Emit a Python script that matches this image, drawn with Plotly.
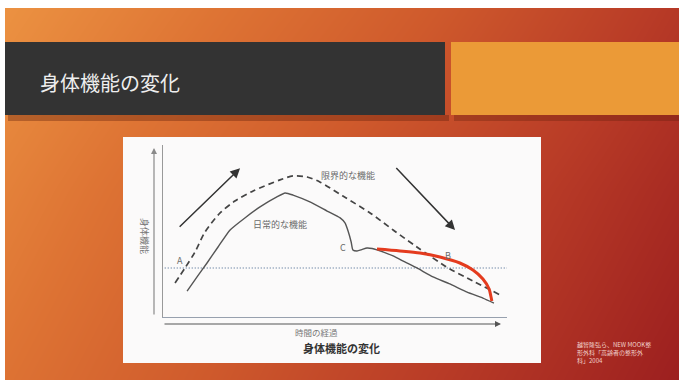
import plotly.graph_objects as go

# ---------------- data (x = time 0-100, y = function 0-100)
limit_x = [3.5, 6.4, 9.3, 12.2, 16.6, 20.9, 26.2, 34.0, 37.8, 41.9, 45.6, 52.3, 60.2, 66.9, 73.8, 83.4, 88.4, 98.0]
limit_y = [19.8, 28.5, 37.8, 49.4, 60.5, 67.4, 73.3, 79.7, 82.0, 81.4, 78.5, 70.3, 60.5, 50.6, 40.7, 27.9, 22.7, 12.8]

daily_x = [7.0, 9.9, 12.8, 16.0, 19.5, 23.8, 28.2, 33.1, 35.5, 37.8, 42.7, 47.7, 51.5, 52.9, 53.8, 54.7, 55.2,
           56.4, 57.8, 59.3, 60.8, 62.2, 66.9, 70.3, 73.8, 78.5, 83.4, 88.4, 93.0, 96.2]
daily_y = [15.1, 23.3, 31.4, 40.7, 50.6, 57.6, 64.0, 69.8, 72.1, 70.9, 66.9, 61.6, 57.6, 54.7, 50.0, 43.6, 39.0,
           38.4, 39.2, 40.1, 39.8, 39.0, 35.5, 32.0, 28.5, 23.3, 19.2, 14.5, 11.0, 8.1]

kept_x = [62.2, 68.9, 74.7, 80.5, 86.3, 90.1, 93.0, 94.8, 95.3, 95.6]
kept_y = [39.5, 38.4, 37.2, 34.9, 31.4, 27.3, 22.1, 16.3, 12.2, 9.3]

threshold_x = [0.5, 100]
threshold_y = [28.5, 28.5]

rise_arrow = [(4.4, 51.6), (22.4, 86.5)]
fall_arrow = [(67.4, 87.5), (84.9, 50.6)]

labels = [("限界的な機能", 53.8, 82.4), ("日常的な機能", 34.0, 53.9), ("A", 5.0, 33.1), ("C", 52.2, 40.5), ("B", 82.8, 35.5)]

title_text = "身体機能の変化"
caption_text = "身体機能の変化"
xlabel_text = "時間の経過"
ylabel_text = "身体機能"
source_text = "越智隆弘ら、NEW MOOK整<br>形外科「高齢者の整形外<br>科」2004"

W, H = 679, 380
JP = "Noto Sans CJK JP"

fig = go.Figure()

# ---------------- background (subplot xy in pixel coordinates)
fig.add_trace(go.Heatmap(
    x=[0, 339.5, 679], y=[0, 190, 380],
    z=[[0.0, 0.38, 0.78], [0.14, 0.55, 0.9], [0.26, 0.66, 1.0]],
    zsmooth="best", showscale=False, hoverinfo="skip",
    colorscale=[[0, "#ec9342"], [0.25, "#de7434"], [0.5, "#cf5a2c"], [0.75, "#b93c27"], [1, "#9c1f1f"]],
    xaxis="x", yaxis="y"))


def rect(x0, y0, x1, y1, color):
    fig.add_trace(go.Scatter(x=[x0, x1, x1, x0, x0], y=[y0, y0, y1, y1, y0], mode="lines",
                             fill="toself", fillcolor=color, line=dict(width=0), hoverinfo="skip",
                             showlegend=False, xaxis="x", yaxis="y"))


rect(0, 0, W, 8, "white")
rect(0, 0, 5, H, "white")
rect(8, 115, 449, 121, "rgba(90,25,10,0.35)")
rect(454, 115, W, 121, "rgba(90,25,10,0.30)")
rect(5, 42, 445, 115, "#333333")
rect(451, 42, W, 115, "#eb9a37")
rect(123, 137, 541, 363, "#fbfafa")

# ---------------- chart (subplot x2y2)
fig.add_trace(go.Scatter(x=threshold_x, y=threshold_y, mode="lines",
                         line=dict(color="#7f94b0", width=1.3, dash="1px,2px"),
                         xaxis="x2", yaxis="y2", showlegend=False, hoverinfo="skip"))
fig.add_trace(go.Scatter(x=limit_x, y=limit_y, mode="lines",
                         line=dict(color="#444444", width=1.7, dash="6px,4px", shape="spline", smoothing=0.8),
                         xaxis="x2", yaxis="y2", showlegend=False, hoverinfo="skip"))
fig.add_trace(go.Scatter(x=daily_x, y=daily_y, mode="lines",
                         line=dict(color="#555555", width=1.4, shape="spline", smoothing=0.5),
                         xaxis="x2", yaxis="y2", showlegend=False, hoverinfo="skip"))
fig.add_trace(go.Scatter(x=kept_x, y=kept_y, mode="lines",
                         line=dict(color="#e43b1e", width=3, shape="spline", smoothing=0.8),
                         xaxis="x2", yaxis="y2", showlegend=False, hoverinfo="skip"))

ann = []
for (t, lx, ly) in labels:
    size = 9 if len(t) > 1 else 9
    ann.append(dict(text=t, x=lx, y=ly, xref="x2", yref="y2", showarrow=False,
                    font=dict(family=JP, size=size, color="#6a6a6a")))
for (tail, head) in [rise_arrow, fall_arrow]:
    ann.append(dict(x=head[0], y=head[1], ax=tail[0], ay=tail[1], xref="x2", yref="y2",
                    axref="x2", ayref="y2", text="", showarrow=True, arrowhead=2,
                    arrowsize=1.3, arrowwidth=1.5, arrowcolor="#333333"))

# outer axis arrows (pixel coords of bg subplot)
ann.append(dict(x=154, y=148, ax=154, ay=316, xref="x", yref="y", axref="x", ayref="y", text="",
                showarrow=True, arrowhead=2, arrowsize=1, arrowwidth=1.2, arrowcolor="#8a8a8a"))
ann.append(dict(x=501, y=324, ax=163, ay=324, xref="x", yref="y", axref="x", ayref="y", text="",
                showarrow=True, arrowhead=2, arrowsize=1, arrowwidth=1.2, arrowcolor="#555555"))

# texts
ann.append(dict(text=title_text, x=38, y=82, xref="x", yref="y", xanchor="left", showarrow=False,
                font=dict(family=JP, size=20, color="#eeeeee")))
ann.append(dict(text=ylabel_text, x=145, y=236, xref="x", yref="y", textangle=90, showarrow=False,
                font=dict(family=JP, size=9, color="#777777")))
ann.append(dict(text=xlabel_text, x=316, y=332, xref="x", yref="y", showarrow=False,
                font=dict(family=JP, size=8.5, color="#777777")))
ann.append(dict(text="<b>" + caption_text + "</b>", x=341, y=348, xref="x", yref="y", showarrow=False,
                font=dict(family=JP, size=11, color="#333333")))
ann.append(dict(text=source_text, x=575, y=352, xref="x", yref="y", xanchor="left", align="left",
                showarrow=False, font=dict(family=JP, size=6, color="#f2d2cc")))

fig.update_layout(
    width=W, height=H, margin=dict(l=0, r=0, t=0, b=0),
    paper_bgcolor="white", plot_bgcolor="rgba(0,0,0,0)", showlegend=False,
    xaxis=dict(domain=[0, 1], range=[0, W], visible=False, fixedrange=True),
    yaxis=dict(domain=[0, 1], range=[H, 0], visible=False, fixedrange=True),
    xaxis2=dict(domain=[163 / W, 507 / W], range=[0, 100], anchor="y2", showline=True,
                linecolor="#97a0ae", linewidth=1.4, showgrid=False, zeroline=False,
                showticklabels=False, ticks=""),
    yaxis2=dict(domain=[1 - 317 / H, 1 - 145 / H], range=[0, 100], anchor="x2", showline=True,
                linecolor="#999999", linewidth=1.2, showgrid=False, zeroline=False,
                showticklabels=False, ticks=""),
    annotations=ann,
)

fig.write_html("out.html")
